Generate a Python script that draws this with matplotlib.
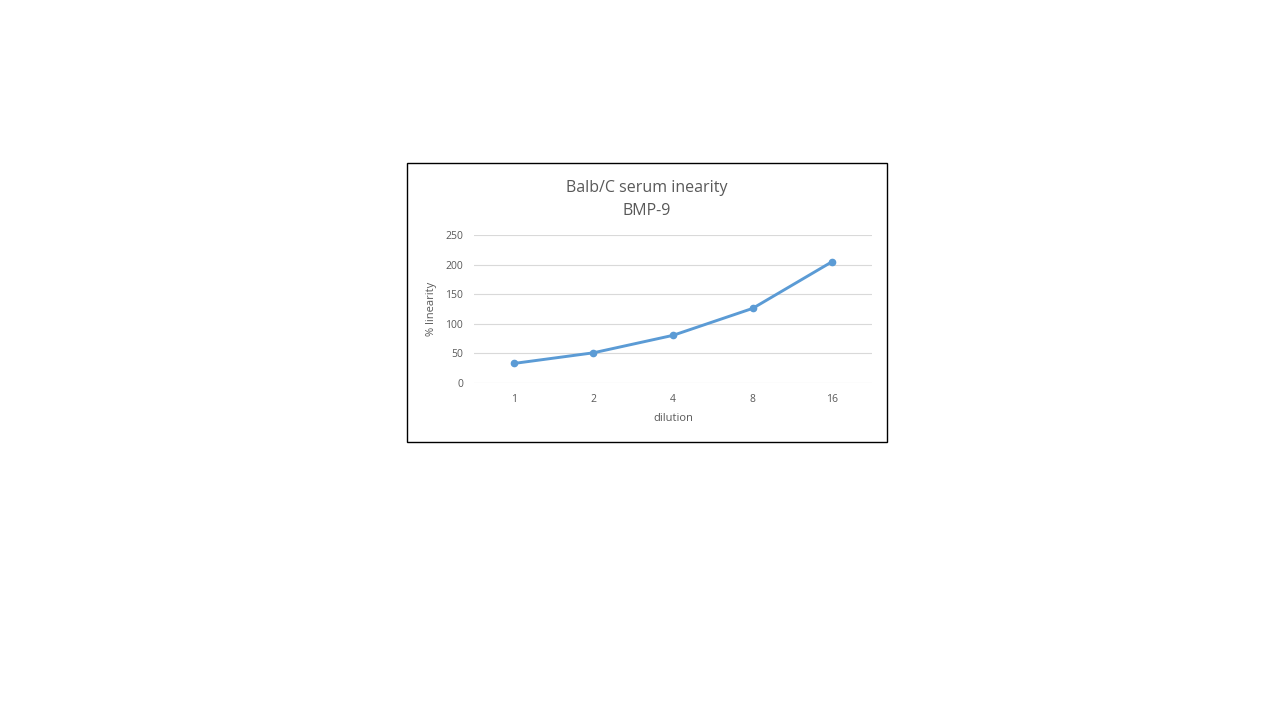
import matplotlib.pyplot as plt
from matplotlib.patches import Rectangle

# data
dilution = ['1', '2', '4', '8', '16']
linearity = [33, 51, 80.5, 126, 205]

plt.rcParams['font.family'] = ['Open Sans', 'DejaVu Sans']
txt = '#595959'

fig = plt.figure(figsize=(12.8, 7.2), dpi=100)
fig.patches.append(Rectangle((407 / 1280, 1 - 442 / 720), 480 / 1280, 279 / 720,
                             transform=fig.transFigure, fill=False,
                             edgecolor='black', linewidth=1))

ax = fig.add_axes([474 / 1280, 337 / 720, 398 / 1280, 148 / 720])
x = range(len(dilution))
ax.plot(x, linearity, color='#5B9BD5', linewidth=2.1, marker='o', markersize=4.5)

ax.set_xlim(-0.5, len(dilution) - 0.5)
ax.set_ylim(0, 250)
ax.set_yticks([0, 50, 100, 150, 200, 250])
ax.set_xticks(list(x))
ax.set_xticklabels(dilution)
ax.grid(axis='y', color='#D9D9D9', linewidth=0.8)
ax.set_axisbelow(True)
for s in ax.spines.values():
    s.set_visible(False)
ax.tick_params(length=0, labelsize=7.5, colors=txt, pad=8)

ax.set_xlabel('dilution', fontsize=8, color=txt, labelpad=6)
ax.set_ylabel('% linearity', fontsize=8, color=txt, labelpad=6)
fig.text(647 / 1280, 1 - 199.5 / 720, 'Balb/C serum inearity\nBMP-9', ha='center', va='center',
         fontsize=11.5, color=txt, linespacing=1.6)

fig.savefig('out.png', dpi=100)
